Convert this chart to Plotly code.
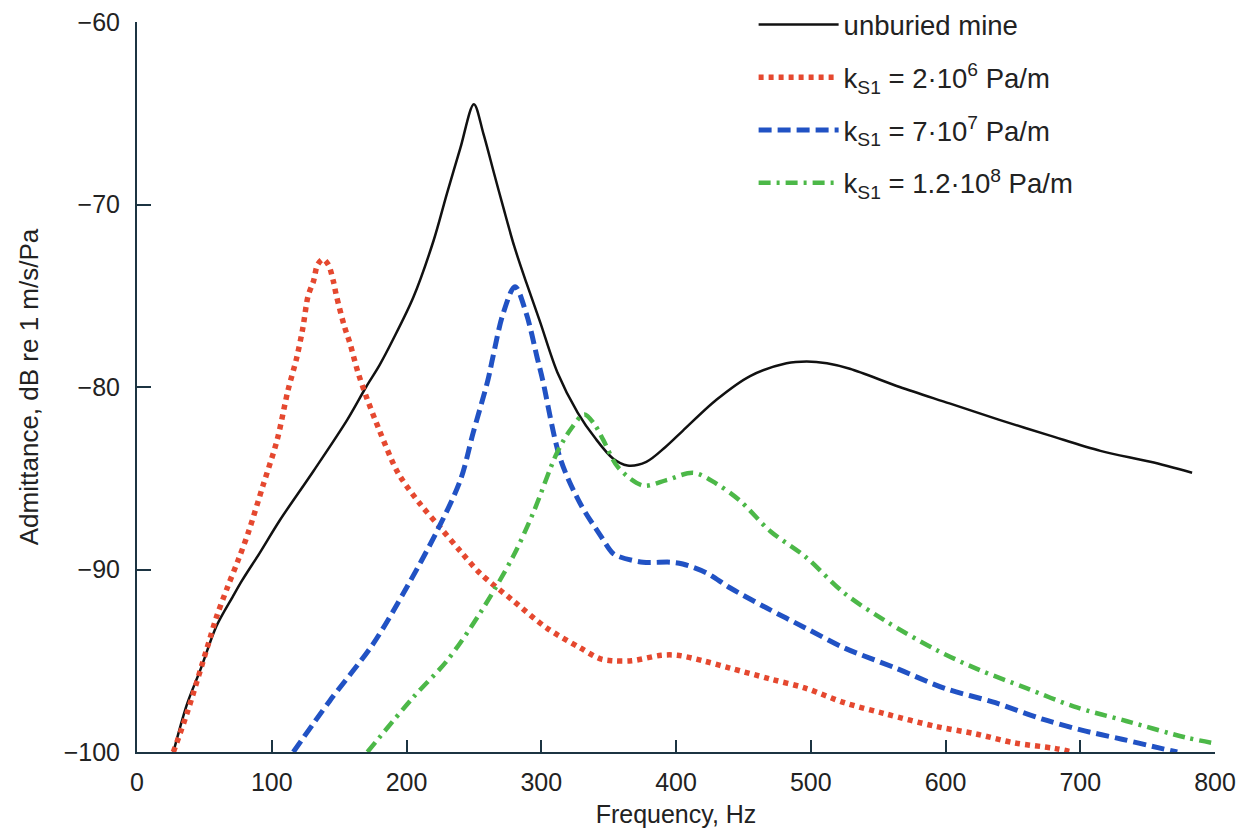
import plotly.graph_objects as go

# ---- data ----
freq_unburied = [27, 37, 47, 59, 71, 78, 91, 106, 131, 156, 170, 180, 190, 205, 220, 230, 240, 250,
                 257, 265, 272, 280, 289, 299, 312, 327, 340, 353, 364, 378, 392, 405, 430, 455, 482, 497,
                 512, 529, 566, 603, 640, 677, 715, 752, 783]
adm_unburied = [-100, -97.4, -95.5, -93.1, -91.5, -90.6, -89.1, -87.3, -84.6, -81.8, -80.0, -78.8, -77.4,
                -75.1, -72.0, -69.4, -66.9, -64.5, -66.1, -68.3, -70.2, -72.3, -74.3, -76.4, -79.2,
                -81.4, -82.8, -83.9, -84.3, -84.1, -83.3, -82.4, -80.7, -79.4, -78.7, -78.6, -78.7, -79.0,
                -80.0, -80.9, -81.8, -82.65, -83.5, -84.1, -84.7]

freq_k1 = [27, 37, 52, 59, 67, 75, 82.5, 93.5, 104, 112, 118.5, 123, 127, 131, 134, 138, 142, 145.7, 148,
           154, 158, 164, 170.5, 180, 191.5, 197, 210, 225, 240, 254.5, 279, 304, 329, 344, 353, 367, 389,
           401, 420, 440, 470, 496, 525, 555, 593, 622, 651, 681, 694]
adm_k1 = [-100, -97.9, -94.3, -92.6, -91.0, -89.5, -88.0, -85.4, -82.9, -80.2, -78.4, -76.8, -75.0, -74.2,
          -73.3, -73.0, -73.3, -74.2, -75.0, -76.7, -77.6, -79.2, -80.6, -82.4, -84.4, -85.1, -86.4, -87.7,
          -89.0, -90.2, -91.7, -93.2, -94.3, -94.9, -95.0, -95.0, -94.7, -94.7, -95.0, -95.4, -96.0, -96.5,
          -97.3, -97.9, -98.6, -99.0, -99.5, -99.8, -100]

freq_k2 = [116, 143, 175, 200, 222.6, 240, 249.5, 260.5, 264, 271.6, 280.5, 289, 297, 301, 314, 329, 343.6,
           353, 358, 375.5, 396, 405, 423, 440, 467, 496, 525, 563, 599, 637, 672, 701, 731, 760, 772]
adm_k2 = [-100, -97.2, -94.1, -91.0, -87.9, -85.1, -82.5, -79.6, -78.4, -76.0, -74.5, -76.0, -78.4, -79.6,
          -83.9, -86.4, -88.1, -89.1, -89.3, -89.6, -89.6, -89.7, -90.2, -91.0, -92.1, -93.2, -94.3, -95.4,
          -96.5, -97.3, -98.2, -98.8, -99.3, -99.8, -100]

freq_k3 = [171, 205, 230, 254.5, 279, 294, 311.7, 322, 332, 340, 346, 357, 375.5, 393, 413, 430, 447, 470,
           496, 525, 555, 593, 625, 660, 695, 734, 778, 798]
adm_k3 = [-100, -97.0, -95.0, -92.4, -89.3, -86.9, -83.6, -82.3, -81.5, -82.1, -82.9, -84.4, -85.4, -85.1,
          -84.7, -85.3, -86.2, -87.9, -89.3, -91.3, -92.8, -94.4, -95.5, -96.5, -97.5, -98.3, -99.2, -99.5]

names = ["unburied mine",
         "k<sub>S1</sub> = 2·10<sup>6</sup> Pa/m",
         "k<sub>S1</sub> = 7·10<sup>7</sup> Pa/m",
         "k<sub>S1</sub> = 1.2·10<sup>8</sup> Pa/m"]

x_ticks = [0, 100, 200, 300, 400, 500, 600, 700, 800]
y_ticks = [-100, -90, -80, -70, -60]

FONT = "Liberation Sans, Arial, sans-serif"
AXIS_COL = "#1c3442"
TXT = "#222222"

fig = go.Figure()
fig.add_trace(go.Scatter(x=freq_unburied, y=adm_unburied, mode="lines", name=names[0], legendgroup="a",
                         line=dict(color="#111111", width=2.5, shape="spline", smoothing=0.9)))
fig.add_trace(go.Scatter(x=freq_k1, y=adm_k1, mode="lines", name=names[1], legendgroup="b",
                         line=dict(color="#e5482f", width=5.5, dash="5px,5px", shape="spline", smoothing=0.9)))
fig.add_trace(go.Scatter(x=freq_k2, y=adm_k2, mode="lines", name=names[2], legendgroup="c",
                         line=dict(color="#2152c4", width=5, dash="13px,6px", shape="spline", smoothing=0.9)))
fig.add_trace(go.Scatter(x=freq_k3, y=adm_k3, mode="lines", name=names[3], legendgroup="d",
                         line=dict(color="#4cb848", width=4.5, dash="12px,6px,3px,6px", shape="spline", smoothing=0.9)))

# page body has an 8px default margin, so the figure is sized/offset to compensate
fig.update_layout(
    width=1246, height=820,
    margin=dict(l=129, r=39, t=14, b=76, pad=0, autoexpand=False),
    paper_bgcolor="white", plot_bgcolor="white",
    font=dict(family=FONT, size=25, color=TXT),
    showlegend=True,
    legend=dict(x=0.572, y=1.03, xanchor="left", yanchor="top", font=dict(size=27.5, color=TXT),
                tracegroupgap=14, itemwidth=80, bgcolor="rgba(0,0,0,0)", traceorder="grouped"),
    xaxis=dict(range=[0, 800], tickvals=x_ticks, ticks="inside", ticklen=12, tickwidth=2, tickcolor=AXIS_COL,
               showline=True, linecolor=AXIS_COL, linewidth=2, showgrid=False, zeroline=False,
               automargin=False, tickfont=dict(size=25, color=TXT), ticklabelstandoff=7,
               ticklabeloverflow="allow",
               title=dict(text="Frequency, Hz", font=dict(size=25, color=TXT), standoff=10)),
    yaxis=dict(range=[-100, -60], tickvals=y_ticks, ticks="inside", ticklen=14, tickwidth=2, tickcolor=AXIS_COL,
               showline=True, linecolor=AXIS_COL, linewidth=2, showgrid=False, zeroline=False,
               automargin=False, tickfont=dict(size=25, color=TXT), ticklabelstandoff=10,
               ticklabeloverflow="allow",
               title=dict(text="Admittance, dB re 1 m/s/Pa", font=dict(size=26, color=TXT), standoff=18)),
)

fig.write_html("out.html")
